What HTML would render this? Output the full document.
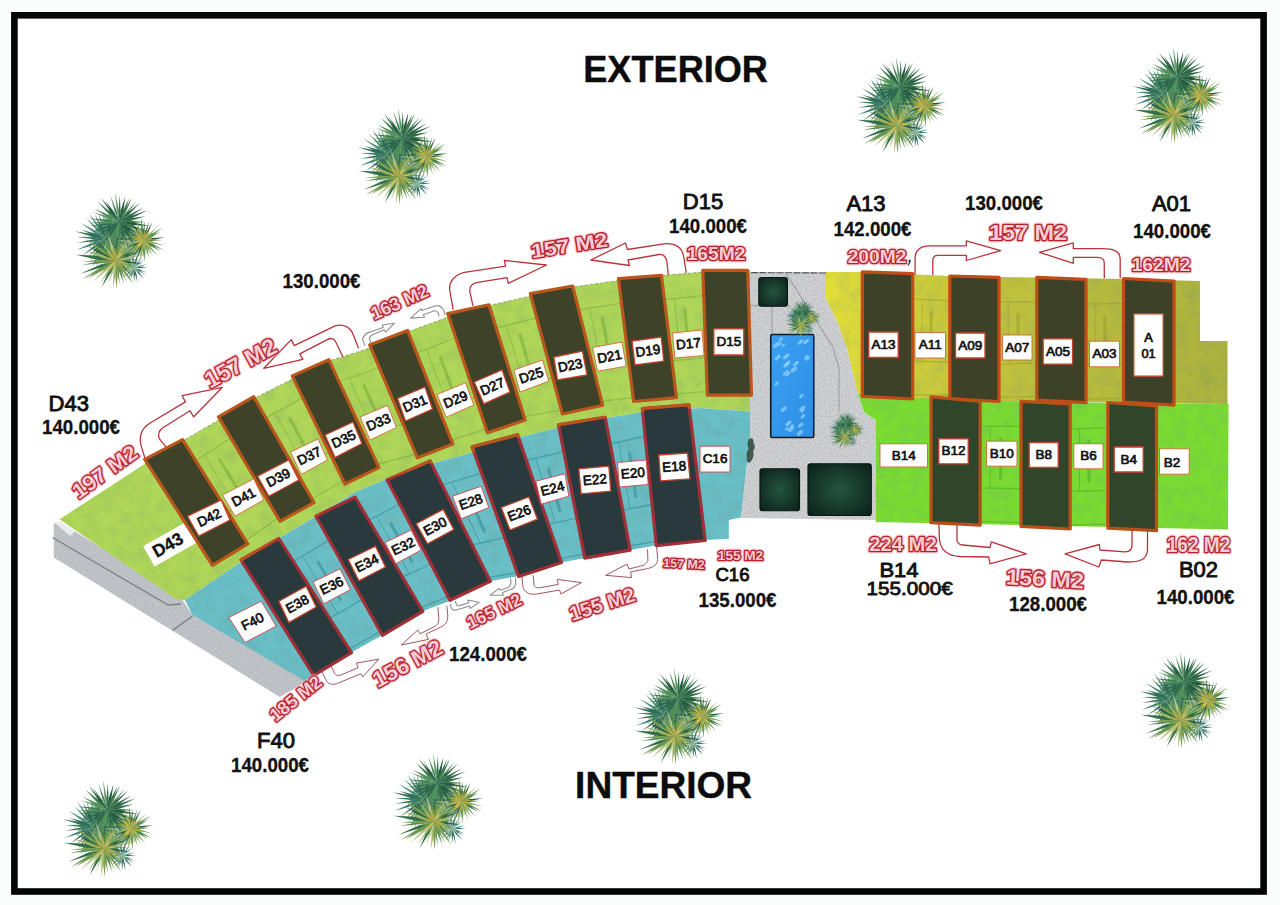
<!DOCTYPE html>
<html lang="es"><head><meta charset="utf-8"><title>Plano</title>
<style>
html,body{margin:0;padding:0;background:#fafdfb;}
body{width:1280px;height:905px;overflow:hidden;font-family:"Liberation Sans",sans-serif;}
svg{display:block;position:absolute;left:0;top:0;font-family:"Liberation Sans",sans-serif;}
.zd{fill:#afd659}.ze{fill:#6bbec6}.za{fill:url(#ga)}.zb{fill:#7bdb30}
.gr{fill:#d0d2d4}.rd{fill:#c1c5ca}
.bd{fill:#3d4228;stroke:#b8561c;stroke-width:3.2;stroke-linejoin:round}
.be{fill:#29393c;stroke:#a02f38;stroke-width:3.2;stroke-linejoin:round}
.ba{fill:#3d4127;stroke:#c24c18;stroke-width:3.2;stroke-linejoin:round}
.bb{fill:#31452a;stroke:#b85018;stroke-width:3.2;stroke-linejoin:round}
.lb{fill:#fff;stroke:#cf6a30;stroke-width:.9}
.lbi{fill:#fff;stroke:#c4402a;stroke-width:1.3}
.lbe{fill:#fff;stroke:#c9474c;stroke-width:.9}
.lbn{fill:#fff;stroke:none}
.lt{fill:#111;text-anchor:middle;stroke:#111;stroke-width:.7;stroke-linejoin:round}
.b43{font-weight:700;stroke-width:.3}
.big{fill:#111;text-anchor:middle;stroke:#111;stroke-width:.9;stroke-linejoin:round}
.pr{fill:#111;text-anchor:middle;font-weight:700;stroke:#111;stroke-width:.3;stroke-linejoin:round}
.ttl{fill:#0c0c0c;text-anchor:middle;font-weight:700;stroke:#0c0c0c;stroke-width:.4;stroke-linejoin:round}
.rt{fill:#f9cdd3;stroke:#b5222e;stroke-width:2.7;font-weight:700;text-anchor:middle;paint-order:stroke fill;stroke-linejoin:round}
.rg{fill:none;stroke:#f5aab2;stroke-width:5;font-weight:700;text-anchor:middle;stroke-linejoin:round;opacity:.55}
.ar{fill:#fff;stroke:#b8343c;stroke-width:1.3;stroke-linejoin:round}
.ar2{fill:#fff;stroke:#9c4c56;stroke-width:.95;stroke-linejoin:round}
.ag{fill:#fff;stroke:#8e8e8e;stroke-width:1.1;stroke-linejoin:round}
</style></head><body>
<svg width="1280" height="905" viewBox="0 0 1280 905">
<defs>
<symbol id="palm" viewBox="-50 -50 100 100" overflow="visible"><g filter="url(#soft)"><ellipse cx="-3" cy="0" rx="22" ry="24" fill="#3f7a52" opacity=".45"/><ellipse cx="20" cy="2" rx="12" ry="13" fill="#6f9a50" opacity=".35"/><path d="M15.0 26.0L20.5 26.4L28.0 25.5L20.4 25.2Z" fill="#2b6a5c" opacity="1.0"/><path d="M15.0 26.0L19.8 28.5L26.9 30.8L20.2 27.5Z" fill="#336c5a" opacity="1.0"/><path d="M15.0 26.0L19.3 29.3L25.8 32.9L19.8 28.4Z" fill="#37806f" opacity="1.0"/><path d="M15.0 26.0L18.3 30.9L24.2 36.5L19.4 30.0Z" fill="#2b6a5c" opacity="1.0"/><path d="M15.0 26.0L15.7 32.2L18.1 40.4L17.0 31.9Z" fill="#2b6a5c" opacity="1.0"/><path d="M15.0 26.0L14.2 31.8L14.8 39.9L15.6 31.8Z" fill="#2b6a5c" opacity="1.0"/><path d="M15.0 26.0L12.8 31.0L10.8 38.3L13.8 31.3Z" fill="#336c5a" opacity="1.0"/><path d="M15.0 26.0L11.5 30.5L8.0 37.6L12.6 31.2Z" fill="#37806f" opacity="1.0"/><path d="M15.0 26.0L10.1 29.6L4.1 35.5L10.7 30.4Z" fill="#2b6a5c" opacity="1.0"/><path d="M15.0 26.0L9.8 27.2L2.9 29.8L10.0 28.0Z" fill="#37806f" opacity="1.0"/><path d="M15.0 26.0L9.0 25.3L0.6 26.0L9.0 26.7Z" fill="#4a907f" opacity="1.0"/><path d="M15.0 26.0L9.6 23.6L1.7 21.4L9.2 24.6Z" fill="#37806f" opacity="1.0"/><path d="M15.0 26.0L11.0 22.1L4.6 17.7L10.2 23.0Z" fill="#336c5a" opacity="1.0"/><path d="M15.0 26.0L12.1 21.0L6.9 14.9L11.2 21.7Z" fill="#336c5a" opacity="1.0"/><path d="M15.0 26.0L14.4 20.6L12.3 13.4L13.4 20.8Z" fill="#265a52" opacity="1.0"/><path d="M15.0 26.0L15.0 20.0L13.9 11.8L14.1 20.1Z" fill="#3f8a80" opacity="1.0"/><path d="M15.0 26.0L17.0 20.2L18.2 11.9L15.6 19.9Z" fill="#265a52" opacity="1.0"/><path d="M15.0 26.0L18.7 21.5L22.7 14.6L17.7 20.9Z" fill="#4a907f" opacity="1.0"/><path d="M15.0 26.0L19.4 22.8L24.6 17.5L18.7 22.1Z" fill="#3f8a80" opacity="1.0"/><path d="M15.0 26.0L20.3 25.1L27.2 22.5L20.0 24.0Z" fill="#3f8a80" opacity="1.0"/><path d="M-12.0 -2.0L0.1 -0.7L16.8 -1.7L0.1 -3.1Z" fill="#2a6444" opacity="1.0"/><path d="M-12.0 -2.0L-1.5 1.9L13.8 4.2L-0.8 -0.7Z" fill="#3f8a80" opacity="1.0"/><path d="M-12.0 -2.0L-2.3 2.2L11.7 6.0L-1.8 0.6Z" fill="#336c5a" opacity="1.0"/><path d="M-12.0 -2.0L-3.0 4.2L10.6 10.5L-2.0 2.4Z" fill="#33704a" opacity="1.0"/><path d="M-12.0 -2.0L-3.9 6.2L9.1 15.2L-2.4 4.3Z" fill="#265a52" opacity="1.0"/><path d="M-12.0 -2.0L-5.7 9.0L5.1 22.7L-3.9 7.7Z" fill="#2a6444" opacity="1.0"/><path d="M-12.0 -2.0L-8.4 9.6L-0.8 24.6L-6.2 8.7Z" fill="#4a907f" opacity="1.0"/><path d="M-12.0 -2.0L-9.5 8.4L-4.0 22.1L-7.7 7.8Z" fill="#4a907f" opacity="1.0"/><path d="M-12.0 -2.0L-11.1 10.6L-7.4 27.5L-9.0 10.2Z" fill="#336c5a" opacity="1.0"/><path d="M-12.0 -2.0L-13.4 9.3L-12.8 25.0L-11.2 9.4Z" fill="#3f8a80" opacity="1.0"/><path d="M-12.0 -2.0L-17.2 9.0L-21.5 25.3L-14.8 9.9Z" fill="#2b6a5c" opacity="1.0"/><path d="M-12.0 -2.0L-19.0 8.7L-25.3 25.0L-16.2 10.0Z" fill="#3f7f50" opacity="1.0"/><path d="M-12.0 -2.0L-19.4 6.6L-27.9 19.7L-17.9 7.7Z" fill="#2a6444" opacity="1.0"/><path d="M-12.0 -2.0L-19.9 4.8L-29.2 15.6L-18.6 6.0Z" fill="#265a52" opacity="1.0"/><path d="M-12.0 -2.0L-22.3 4.0L-35.3 14.1L-21.2 5.5Z" fill="#265a52" opacity="1.0"/><path d="M-12.0 -2.0L-24.5 1.3L-40.6 8.9L-23.5 3.9Z" fill="#37806f" opacity="1.0"/><path d="M-12.0 -2.0L-23.9 -1.4L-40.1 1.9L-23.7 0.6Z" fill="#336c5a" opacity="1.0"/><path d="M-12.0 -2.0L-23.8 -3.9L-40.2 -3.7L-23.9 -1.5Z" fill="#37806f" opacity="1.0"/><path d="M-12.0 -2.0L-24.4 -6.2L-42.1 -9.1L-25.0 -3.7Z" fill="#33704a" opacity="1.0"/><path d="M-12.0 -2.0L-21.5 -6.7L-35.7 -10.5L-22.4 -4.4Z" fill="#336c5a" opacity="1.0"/><path d="M-12.0 -2.0L-21.7 -9.4L-36.6 -17.1L-23.0 -7.3Z" fill="#4a907f" opacity="1.0"/><path d="M-12.0 -2.0L-19.5 -11.0L-31.4 -21.9L-20.8 -9.7Z" fill="#3f7f50" opacity="1.0"/><path d="M-12.0 -2.0L-18.0 -12.8L-28.4 -26.3L-19.8 -11.6Z" fill="#37806f" opacity="1.0"/><path d="M-12.0 -2.0L-15.7 -12.3L-23.0 -25.5L-17.5 -11.4Z" fill="#265a52" opacity="1.0"/><path d="M-12.0 -2.0L-14.1 -12.6L-19.5 -26.6L-16.2 -12.0Z" fill="#3f7f50" opacity="1.0"/><path d="M-12.0 -2.0L-12.0 -12.9L-14.9 -27.5L-14.5 -12.6Z" fill="#4a907f" opacity="1.0"/><path d="M-12.0 -2.0L-9.0 -14.2L-8.1 -31.5L-11.8 -14.6Z" fill="#4a907f" opacity="1.0"/><path d="M-12.0 -2.0L-8.0 -12.9L-5.5 -28.8L-10.5 -13.5Z" fill="#2b6a5c" opacity="1.0"/><path d="M-12.0 -2.0L-5.6 -11.6L1.1 -26.1L-7.4 -12.6Z" fill="#3f8a80" opacity="1.0"/><path d="M-12.0 -2.0L-3.0 -11.3L6.3 -26.5L-5.6 -13.3Z" fill="#3f8a80" opacity="1.0"/><path d="M-12.0 -2.0L-3.9 -8.7L5.4 -19.7L-5.4 -10.2Z" fill="#3f8a80" opacity="1.0"/><path d="M-12.0 -2.0L-1.3 -7.5L11.6 -17.9L-2.9 -9.9Z" fill="#2b6a5c" opacity="1.0"/><path d="M-12.0 -2.0L-0.3 -5.1L14.7 -12.4L-1.3 -7.7Z" fill="#37806f" opacity="1.0"/><path d="M-12.0 -2.0L-1.5 -2.5L12.7 -5.5L-1.7 -4.5Z" fill="#4a907f" opacity="1.0"/><path d="M0.5 -18.0L11.0 -16.8L25.6 -18.1L11.0 -19.2Z" fill="#3f7f50" opacity="1.0"/><path d="M0.5 -18.0L12.7 -15.1L29.9 -14.3L13.0 -17.8Z" fill="#255640" opacity="1.0"/><path d="M0.5 -18.0L11.8 -12.6L28.5 -8.2L12.7 -15.2Z" fill="#33704a" opacity="1.0"/><path d="M0.5 -18.0L8.4 -11.5L20.7 -4.7L9.6 -13.3Z" fill="#255640" opacity="1.0"/><path d="M0.5 -18.0L7.4 -10.1L18.9 -1.3L9.1 -11.9Z" fill="#255640" opacity="1.0"/><path d="M0.5 -18.0L6.5 -8.8L16.9 2.3L8.3 -10.2Z" fill="#33704a" opacity="1.0"/><path d="M0.5 -18.0L6.0 -7.1L16.3 6.1L8.3 -8.6Z" fill="#2a6444" opacity="1.0"/><path d="M0.5 -18.0L3.6 -5.9L10.5 9.8L5.9 -6.7Z" fill="#2d6850" opacity="1.0"/><path d="M0.5 -18.0L2.2 -5.8L6.6 10.6L4.0 -6.2Z" fill="#33704a" opacity="1.0"/><path d="M0.5 -18.0L-0.4 -7.3L1.1 7.4L1.9 -7.3Z" fill="#3f7f50" opacity="1.0"/><path d="M0.5 -18.0L-2.6 -6.2L-4.7 10.5L-0.7 -5.8Z" fill="#5f9a62" opacity="1.0"/><path d="M0.5 -18.0L-4.3 -7.8L-8.2 7.3L-2.0 -7.0Z" fill="#4f8f58" opacity="1.0"/><path d="M0.5 -18.0L-6.7 -7.8L-14.0 7.7L-4.5 -6.6Z" fill="#4f8f58" opacity="1.0"/><path d="M0.5 -18.0L-7.5 -9.8L-16.0 3.5L-5.3 -8.2Z" fill="#2d6850" opacity="1.0"/><path d="M0.5 -18.0L-7.8 -12.1L-17.3 -1.9L-6.2 -10.4Z" fill="#33704a" opacity="1.0"/><path d="M0.5 -18.0L-9.8 -12.5L-22.9 -3.1L-8.8 -10.9Z" fill="#2a6444" opacity="1.0"/><path d="M0.5 -18.0L-10.5 -15.0L-24.8 -8.2L-9.7 -12.8Z" fill="#2d6850" opacity="1.0"/><path d="M0.5 -18.0L-11.8 -17.2L-28.5 -13.9L-11.5 -15.3Z" fill="#33704a" opacity="1.0"/><path d="M0.5 -18.0L-11.6 -18.9L-28.1 -17.2L-11.5 -16.5Z" fill="#4f8f58" opacity="1.0"/><path d="M0.5 -18.0L-11.6 -20.4L-28.7 -21.4L-11.9 -18.5Z" fill="#3f7f50" opacity="1.0"/><path d="M0.5 -18.0L-9.7 -23.1L-24.8 -27.6L-10.5 -20.9Z" fill="#5f9a62" opacity="1.0"/><path d="M0.5 -18.0L-8.9 -24.6L-23.3 -30.9L-10.1 -22.2Z" fill="#4f8f58" opacity="1.0"/><path d="M0.5 -18.0L-7.2 -27.1L-20.1 -37.3L-9.1 -25.1Z" fill="#3f7f50" opacity="1.0"/><path d="M0.5 -18.0L-6.1 -28.5L-17.2 -41.4L-7.8 -27.2Z" fill="#255640" opacity="1.0"/><path d="M0.5 -18.0L-4.2 -27.3L-12.8 -38.8L-5.9 -26.2Z" fill="#2a6444" opacity="1.0"/><path d="M0.5 -18.0L-2.2 -28.9L-8.1 -43.2L-4.0 -28.3Z" fill="#3f7f50" opacity="1.0"/><path d="M0.5 -18.0L-0.2 -30.4L-3.6 -47.1L-2.2 -30.1Z" fill="#5f9a62" opacity="1.0"/><path d="M0.5 -18.0L1.7 -29.0L1.0 -44.2L-0.3 -29.0Z" fill="#33704a" opacity="1.0"/><path d="M0.5 -18.0L4.2 -28.0L6.3 -42.6L1.7 -28.7Z" fill="#255640" opacity="1.0"/><path d="M0.5 -18.0L5.6 -27.2L10.1 -41.0L3.5 -28.1Z" fill="#33704a" opacity="1.0"/><path d="M0.5 -18.0L6.7 -27.4L12.8 -41.6L4.7 -28.4Z" fill="#3f7f50" opacity="1.0"/><path d="M0.5 -18.0L8.2 -25.9L17.1 -38.2L6.8 -27.0Z" fill="#3f7f50" opacity="1.0"/><path d="M0.5 -18.0L9.6 -25.1L20.4 -36.8L8.1 -26.7Z" fill="#2a6444" opacity="1.0"/><path d="M0.5 -18.0L10.8 -22.9L23.8 -31.9L9.7 -24.7Z" fill="#2a6444" opacity="1.0"/><path d="M0.5 -18.0L12.4 -21.8L27.7 -29.4L11.5 -23.8Z" fill="#2a6444" opacity="1.0"/><path d="M0.5 -18.0L11.3 -19.1L25.5 -23.7L10.7 -21.7Z" fill="#33704a" opacity="1.0"/><path d="M-2.7 18.6L7.2 19.3L20.7 18.0L7.1 17.4Z" fill="#588c52" opacity="1.0"/><path d="M-2.7 18.6L8.0 21.3L23.1 22.4L8.3 19.1Z" fill="#2a6444" opacity="1.0"/><path d="M-2.7 18.6L6.2 22.5L19.2 26.3L6.7 21.1Z" fill="#6a9650" opacity="1.0"/><path d="M-2.7 18.6L5.4 24.0L18.0 28.9L6.5 21.9Z" fill="#8fae5c" opacity="1.0"/><path d="M-2.7 18.6L4.3 25.5L15.6 32.8L5.7 23.7Z" fill="#8fae5c" opacity="1.0"/><path d="M-2.7 18.6L3.9 25.9L14.3 34.7L4.9 24.8Z" fill="#33704a" opacity="1.0"/><path d="M-2.7 18.6L3.4 29.0L14.2 41.5L5.4 27.4Z" fill="#7aa052" opacity="1.0"/><path d="M-2.7 18.6L1.1 28.0L8.2 40.1L2.6 27.3Z" fill="#6a9650" opacity="1.0"/><path d="M-2.7 18.6L-0.5 28.4L5.2 41.0L1.8 27.6Z" fill="#588c52" opacity="1.0"/><path d="M-2.7 18.6L-2.1 28.7L1.0 42.3L-0.2 28.4Z" fill="#6a9650" opacity="1.0"/><path d="M-2.7 18.6L-3.9 30.3L-2.0 46.3L-0.9 30.2Z" fill="#7aa052" opacity="1.0"/><path d="M-2.7 18.6L-5.1 29.9L-5.5 45.8L-2.7 30.1Z" fill="#a3b868" opacity="1.0"/><path d="M-2.7 18.6L-6.8 27.9L-10.2 41.6L-4.9 28.6Z" fill="#b5c688" opacity="1.0"/><path d="M-2.7 18.6L-9.8 28.7L-16.4 44.4L-7.2 30.1Z" fill="#33704a" opacity="1.0"/><path d="M-2.7 18.6L-10.0 27.3L-18.0 40.7L-8.3 28.4Z" fill="#a3b868" opacity="1.0"/><path d="M-2.7 18.6L-13.0 26.3L-25.0 39.3L-11.1 28.3Z" fill="#b5c688" opacity="1.0"/><path d="M-2.7 18.6L-15.0 24.6L-29.9 36.2L-13.2 27.3Z" fill="#7aa052" opacity="1.0"/><path d="M-2.7 18.6L-17.0 25.1L-35.0 37.0L-15.6 27.5Z" fill="#6a9650" opacity="1.0"/><path d="M-2.7 18.6L-17.6 22.7L-36.9 31.6L-16.5 25.4Z" fill="#33704a" opacity="1.0"/><path d="M-2.7 18.6L-16.7 19.3L-35.6 23.2L-16.3 21.7Z" fill="#588c52" opacity="1.0"/><path d="M-2.7 18.6L-16.3 18.1L-35.0 20.2L-16.2 20.5Z" fill="#7aa052" opacity="1.0"/><path d="M-2.7 18.6L-18.7 14.4L-41.5 13.5L-19.3 18.5Z" fill="#33704a" opacity="1.0"/><path d="M-2.7 18.6L-14.7 13.3L-32.4 9.6L-15.6 16.3Z" fill="#a3b868" opacity="1.0"/><path d="M-2.7 18.6L-13.8 11.8L-30.3 5.1L-14.8 14.0Z" fill="#2a6444" opacity="1.0"/><path d="M-2.7 18.6L-14.5 8.8L-32.7 -2.1L-16.1 11.0Z" fill="#7aa052" opacity="1.0"/><path d="M-2.7 18.6L-11.6 9.0L-25.7 -2.4L-13.1 10.6Z" fill="#3f7f50" opacity="1.0"/><path d="M-2.7 18.6L-8.7 9.7L-18.7 -1.2L-10.2 10.9Z" fill="#a3b868" opacity="1.0"/><path d="M-2.7 18.6L-7.4 7.4L-16.9 -6.4L-9.9 8.8Z" fill="#6a9650" opacity="1.0"/><path d="M-2.7 18.6L-4.7 7.3L-10.7 -7.4L-7.4 8.1Z" fill="#b5c688" opacity="1.0"/><path d="M-2.7 18.6L-3.0 7.1L-6.2 -8.4L-5.3 7.4Z" fill="#588c52" opacity="1.0"/><path d="M-2.7 18.6L-1.5 7.4L-2.0 -8.1L-3.3 7.4Z" fill="#33704a" opacity="1.0"/><path d="M-2.7 18.6L0.6 7.5L1.9 -8.3L-2.1 7.1Z" fill="#6a9650" opacity="1.0"/><path d="M-2.7 18.6L2.5 8.2L6.9 -7.1L0.2 7.4Z" fill="#7aa052" opacity="1.0"/><path d="M-2.7 18.6L3.8 9.6L10.1 -4.4L1.5 8.3Z" fill="#a3b868" opacity="1.0"/><path d="M-2.7 18.6L3.5 11.1L9.9 -0.5L1.7 10.0Z" fill="#8fae5c" opacity="1.0"/><path d="M-2.7 18.6L5.4 11.5L15.1 0.3L4.2 10.3Z" fill="#7aa052" opacity="1.0"/><path d="M-2.7 18.6L7.2 13.0L19.3 3.1L5.9 11.1Z" fill="#7aa052" opacity="1.0"/><path d="M-2.7 18.6L6.5 15.2L17.8 8.0L5.4 13.1Z" fill="#33704a" opacity="1.0"/><path d="M-2.7 18.6L7.9 15.9L21.6 9.5L7.1 13.6Z" fill="#2a6444" opacity="1.0"/><path d="M-2.7 18.6L7.0 17.7L20.0 14.4L6.7 16.0Z" fill="#a3b868" opacity="1.0"/><path d="M-2.7 18.6L2.8 19.0L10.2 17.6L2.7 17.4Z" fill="#dcc04a" opacity="0.85"/><path d="M-2.7 18.6L2.6 20.9L10.5 22.3L3.1 19.4Z" fill="#d2b43c" opacity="0.85"/><path d="M-2.7 18.6L0.5 23.0L6.1 28.0L1.5 22.1Z" fill="#c2ab3e" opacity="0.85"/><path d="M-2.7 18.6L-1.2 23.9L2.8 30.3L0.4 23.1Z" fill="#93a34a" opacity="0.85"/><path d="M-2.7 18.6L-3.3 23.2L-2.9 29.6L-2.2 23.2Z" fill="#a9a846" opacity="0.85"/><path d="M-2.7 18.6L-5.6 22.4L-8.3 28.3L-4.5 23.0Z" fill="#dcc04a" opacity="0.85"/><path d="M-2.7 18.6L-6.8 22.0L-11.0 27.9L-5.6 23.1Z" fill="#dcc04a" opacity="0.85"/><path d="M-2.7 18.6L-8.6 19.6L-16.0 23.0L-8.0 21.3Z" fill="#a9a846" opacity="0.85"/><path d="M-2.7 18.6L-8.4 17.2L-16.4 16.8L-8.5 18.5Z" fill="#dcc04a" opacity="0.85"/><path d="M-2.7 18.6L-7.5 16.2L-14.7 15.2L-8.0 18.1Z" fill="#a9a846" opacity="0.85"/><path d="M-2.7 18.6L-6.2 13.9L-12.7 9.2L-7.6 15.4Z" fill="#d2b43c" opacity="0.85"/><path d="M-2.7 18.6L-3.7 13.9L-6.8 8.0L-5.1 14.4Z" fill="#a9a846" opacity="0.85"/><path d="M-2.7 18.6L-2.4 12.9L-4.1 5.2L-4.1 13.1Z" fill="#d2b43c" opacity="0.85"/><path d="M-2.7 18.6L0.2 14.6L2.3 8.1L-1.4 13.8Z" fill="#dcc04a" opacity="0.85"/><path d="M-2.7 18.6L1.2 15.7L5.1 10.3L-0.1 14.5Z" fill="#c9c27a" opacity="0.85"/><path d="M-2.7 18.6L2.1 17.2L8.2 13.9L1.6 16.1Z" fill="#a9a846" opacity="0.85"/><path d="M23.5 -0.5L31.1 0.1L41.6 -0.8L31.1 -1.3Z" fill="#3f7a45" opacity="1.0"/><path d="M23.5 -0.5L32.2 2.4L44.5 4.8L32.5 1.0Z" fill="#7da24a" opacity="1.0"/><path d="M23.5 -0.5L31.5 4.3L43.3 9.1L32.2 2.8Z" fill="#3f7a45" opacity="1.0"/><path d="M23.5 -0.5L29.9 4.7L40.0 9.9L30.9 3.0Z" fill="#4f8a4a" opacity="1.0"/><path d="M23.5 -0.5L28.6 6.0L37.0 13.8L29.7 5.0Z" fill="#4f8a4a" opacity="1.0"/><path d="M23.5 -0.5L26.8 6.3L32.9 14.6L28.1 5.4Z" fill="#7da24a" opacity="1.0"/><path d="M23.5 -0.5L25.5 7.2L30.0 17.2L27.0 6.7Z" fill="#7da24a" opacity="1.0"/><path d="M23.5 -0.5L23.2 8.5L24.9 20.9L25.0 8.4Z" fill="#4f8a4a" opacity="1.0"/><path d="M23.5 -0.5L21.2 7.9L20.4 19.9L23.2 8.2Z" fill="#93ad52" opacity="1.0"/><path d="M23.5 -0.5L20.0 7.7L16.8 19.5L21.4 8.1Z" fill="#2c5c38" opacity="1.0"/><path d="M23.5 -0.5L18.2 6.8L13.0 18.0L19.9 7.7Z" fill="#3f7a45" opacity="1.0"/><path d="M23.5 -0.5L16.6 5.8L8.8 15.9L18.0 7.0Z" fill="#7da24a" opacity="1.0"/><path d="M23.5 -0.5L16.5 3.7L8.0 10.9L17.4 4.9Z" fill="#3f7a45" opacity="1.0"/><path d="M23.5 -0.5L16.0 2.1L6.5 7.4L16.7 3.5Z" fill="#2c5c38" opacity="1.0"/><path d="M23.5 -0.5L14.9 1.1L3.5 4.9L15.3 2.5Z" fill="#93ad52" opacity="1.0"/><path d="M23.5 -0.5L15.2 -1.7L3.5 -1.7L15.1 -0.3Z" fill="#3f7a45" opacity="1.0"/><path d="M23.5 -0.5L15.7 -3.5L4.5 -6.0L15.3 -2.2Z" fill="#7da24a" opacity="1.0"/><path d="M23.5 -0.5L16.6 -4.1L6.4 -7.4L16.0 -2.6Z" fill="#3f7a45" opacity="1.0"/><path d="M23.5 -0.5L17.4 -5.6L7.9 -11.0L16.5 -4.2Z" fill="#4f8a4a" opacity="1.0"/><path d="M23.5 -0.5L18.8 -7.3L10.9 -15.5L17.6 -6.3Z" fill="#93ad52" opacity="1.0"/><path d="M23.5 -0.5L20.0 -7.7L13.4 -16.4L18.5 -6.7Z" fill="#2c5c38" opacity="1.0"/><path d="M23.5 -0.5L21.0 -9.6L15.9 -21.5L19.6 -9.1Z" fill="#93ad52" opacity="1.0"/><path d="M23.5 -0.5L23.7 -9.6L21.3 -21.9L21.5 -9.4Z" fill="#4f8a4a" opacity="1.0"/><path d="M23.5 -0.5L24.8 -8.3L24.8 -19.2L23.3 -8.4Z" fill="#2c5c38" opacity="1.0"/><path d="M23.5 -0.5L26.8 -7.9L29.2 -18.7L25.0 -8.4Z" fill="#4f8a4a" opacity="1.0"/><path d="M23.5 -0.5L28.1 -7.4L32.4 -18.0L26.4 -8.3Z" fill="#2c5c38" opacity="1.0"/><path d="M23.5 -0.5L30.0 -5.9L37.9 -14.4L29.1 -6.8Z" fill="#93ad52" opacity="1.0"/><path d="M23.5 -0.5L31.8 -4.9L42.3 -12.7L30.9 -6.3Z" fill="#4f8a4a" opacity="1.0"/><path d="M23.5 -0.5L30.8 -3.0L39.9 -8.6L30.0 -4.8Z" fill="#4f8a4a" opacity="1.0"/><path d="M23.5 -0.5L32.4 -0.8L44.4 -3.5L32.1 -2.7Z" fill="#2c5c38" opacity="1.0"/><path d="M23.5 -0.5L28.7 -0.3L35.8 -1.8L28.6 -1.7Z" fill="#c2ab3e" opacity="0.9"/><path d="M23.5 -0.5L28.4 2.0L35.8 3.1L28.9 0.0Z" fill="#a9a846" opacity="0.9"/><path d="M23.5 -0.5L26.3 3.8L31.7 8.2L27.6 2.5Z" fill="#dcc04a" opacity="0.9"/><path d="M23.5 -0.5L25.0 3.7L28.3 8.8L26.1 3.1Z" fill="#93a34a" opacity="0.9"/><path d="M23.5 -0.5L23.1 4.0L24.2 10.2L24.5 3.9Z" fill="#93a34a" opacity="0.9"/><path d="M23.5 -0.5L22.2 4.3L22.9 11.2L24.3 4.5Z" fill="#a9a846" opacity="0.9"/><path d="M23.5 -0.5L19.6 2.9L16.4 9.1L21.4 4.2Z" fill="#dcc04a" opacity="0.9"/><path d="M23.5 -0.5L19.3 2.1L14.5 7.0L20.1 3.2Z" fill="#dcc04a" opacity="0.9"/><path d="M23.5 -0.5L18.9 0.3L13.0 2.7L19.3 1.5Z" fill="#dcc04a" opacity="0.9"/><path d="M23.5 -0.5L18.6 -1.7L11.6 -1.6L18.4 -0.3Z" fill="#c2ab3e" opacity="0.9"/><path d="M23.5 -0.5L18.8 -3.3L11.7 -5.4L18.2 -1.8Z" fill="#d2b43c" opacity="0.9"/><path d="M23.5 -0.5L20.3 -4.6L14.5 -8.8L19.2 -3.4Z" fill="#dcc04a" opacity="0.9"/><path d="M23.5 -0.5L21.4 -5.4L16.5 -10.8L19.7 -4.2Z" fill="#93a34a" opacity="0.9"/><path d="M23.5 -0.5L22.9 -5.4L20.3 -11.6L21.4 -5.0Z" fill="#c2ab3e" opacity="0.9"/><path d="M23.5 -0.5L24.9 -4.9L24.7 -11.2L23.1 -5.1Z" fill="#a9a846" opacity="0.9"/><path d="M23.5 -0.5L26.4 -4.7L28.4 -11.3L24.7 -5.4Z" fill="#c2ab3e" opacity="0.9"/><path d="M23.5 -0.5L28.1 -3.4L33.2 -8.7L27.1 -4.5Z" fill="#93a34a" opacity="0.9"/><path d="M23.5 -0.5L28.1 -1.8L33.7 -5.3L27.5 -3.2Z" fill="#93a34a" opacity="0.9"/></g></symbol>
<filter id="noise" x="0" y="0" width="100%" height="100%"><feTurbulence type="fractalNoise" baseFrequency="0.55" numOctaves="2" seed="3" result="n"/><feColorMatrix in="n" type="matrix" values="0 0 0 0 0.42  0 0 0 0 0.45  0 0 0 0 0.47  0 0 0 -1.6 1.0" result="a"/><feComposite in="a" in2="SourceGraphic" operator="in" result="sp"/><feMerge><feMergeNode in="SourceGraphic"/><feMergeNode in="sp"/></feMerge></filter>
<filter id="soft" x="-20%" y="-20%" width="140%" height="140%"><feGaussianBlur stdDeviation="0.35"/></filter>
<filter id="mot" x="0" y="0" width="100%" height="100%"><feTurbulence type="fractalNoise" baseFrequency="0.08" numOctaves="3" seed="11" result="n"/><feColorMatrix in="n" type="matrix" values="0 0 0 0 0.1  0 0 0 0 0.25  0 0 0 0 0.15  0 0 0 -0.45 0.27" result="a"/><feComposite in="a" in2="SourceGraphic" operator="in" result="sp"/><feMerge><feMergeNode in="SourceGraphic"/><feMergeNode in="sp"/></feMerge></filter>
<filter id="glow" x="-10%" y="-40%" width="120%" height="180%"><feMorphology in="SourceAlpha" operator="dilate" radius="0.9" result="d"/><feGaussianBlur in="d" stdDeviation="0.9" result="b"/><feFlood flood-color="#f3a0aa" flood-opacity=".7"/><feComposite in2="b" operator="in" result="g"/><feMerge><feMergeNode in="g"/><feMergeNode in="SourceGraphic"/></feMerge></filter>
<linearGradient id="pool" x1="0" y1="0" x2="1" y2="1"><stop offset="0" stop-color="#3aa0f0"/><stop offset="1" stop-color="#2f8fe6"/></linearGradient>
<linearGradient id="ga" x1="0" y1="0" x2="1" y2="0"><stop offset="0" stop-color="#e2de3a"/><stop offset=".1" stop-color="#d8d63a"/><stop offset=".35" stop-color="#c3c43c"/><stop offset="1" stop-color="#abb23c"/></linearGradient>
<radialGradient id="dk" cx=".5" cy=".5" r=".7"><stop offset="0" stop-color="#24553f"/><stop offset="1" stop-color="#0a2019"/></radialGradient>
<clipPath id="cd"><polygon points="59.5,519.3 145.0,463.8 182.5,441.0 218.8,420.0 253.8,398.5 292.5,379.0 328.8,361.0 370.0,348.0 407.5,332.0 448.0,317.0 488.8,305.5 530.5,296.0 572.5,287.0 618.8,280.5 661.0,275.5 703.8,272.0 750.0,271.0 750.0,411.5 722.0,409.5 700.0,408.0 642.5,412.0 600.0,419.0 558.8,427.5 517.0,438.0 472.5,452.5 430.0,464.0 387.5,478.8 355.0,492.0 315.0,517.0 280.0,537.5 240.0,562.5 185.0,600.0 176.0,599.0"/></clipPath>
<clipPath id="ce"><polygon points="185.0,600.0 240.0,562.5 280.0,537.5 315.0,517.0 355.0,492.0 387.5,478.8 430.0,464.0 472.5,452.5 517.0,438.0 558.8,427.5 600.0,419.0 642.5,412.0 700.0,408.0 722.0,409.5 750.0,411.5 750.0,437.5 741.0,517.5 728.8,520.0 728.8,538.8 705.0,540.0 658.8,545.0 630.0,550.0 585.0,558.0 561.0,562.5 518.8,576.0 491.0,581.0 448.8,601.2 422.5,611.2 382.5,635.0 351.2,652.5 313.8,675.0 305.0,681.0 192.5,615.0"/></clipPath>
<clipPath id="ca"><polygon points="825.0,272.0 862.0,272.0 950.0,276.0 1037.0,277.5 1123.0,279.0 1200.0,281.0 1200.0,341.0 1227.5,341.0 1227.5,404.0 1085.0,402.0 998.0,401.0 912.0,399.0 860.0,398.0 857.5,392.0 847.5,350.0 837.5,322.0 825.0,297.0"/></clipPath>
<clipPath id="cb"><polygon points="858.0,394.0 912.0,398.0 998.0,401.0 1085.0,402.5 1228.5,404.0 1228.0,529.5 876.0,522.0 876.0,420.0 864.0,412.0"/></clipPath>
</defs>
<rect x="0" y="0" width="1280" height="905" fill="#fafdfb"/>
<rect x="14.4" y="15.3" width="1249.2" height="876.2" fill="#fff" stroke="#040605" stroke-width="6.6"/>
<path class="ar" d="M145.4 459.6L140.8 444.6C138.9 435.2 142.6 427.7 150.1 423L185.4 401.9L182.1 395.7L222.4 387.3L193.7 416.8L190 410.8L162.9 427.7C158.6 430.5 157.7 434.2 159.5 438.9L168.5 450.2"/>
<path class="ar" d="M358.6 348.2L353.1 334.5C350.5 327.6 343.7 323.3 335.1 325.9L294.3 345.6L291.3 339.6L263.8 368.3L302.9 359.4L299.8 353.9L327.7 339.3C331.6 337.5 334.6 338.8 335.9 342.2L342.8 356.8"/>
<path class="ag" d="M364.8 345.6L362.6 338.8C364.3 334.5 366 333 370.3 331.9L383.2 327.6L382.3 325L394.4 323.3L385.8 332.2L384.4 329.8L372.9 334.5C369.5 336.2 369.5 338.8 369.5 338.8L371.2 343.9"/>
<path class="ag" d="M445.1 315L443.4 309.5C439.9 305.2 438 305.3 434.8 306.1L421.9 310.4L421 308.7L410.7 318.1L424.5 317.3L423.3 314.7L433.9 310.9C437.3 310.4 438.2 313 438.2 313L439.1 316.4"/>
<path class="ar" d="M453.2 309.7L449.8 290.5C448.6 281.9 454.1 275 464.4 272.4L505.6 266.1L504.3 260.4L546.5 265L508.2 283.3L507 277.6L476.4 282.7C471.3 283.9 469.2 287 469.9 292.2L473 305.9"/>
<path class="ar" d="M686.3 273L683.8 257.5C682.5 247.5 675 243 663.8 243.8L627.5 249.5L625.5 243L590.8 260L629.5 265.5L628 260L658.8 254.5C664.5 253.8 666.3 257.5 667 262.5L668.3 275.5"/>
<path class="ar" d="M915.1 275.5L915.1 258C915.1 250.2 920.8 245.9 929.4 245.9L966.3 245.9L966.3 240.8L1000.7 250.6L966.3 260.5L966.3 255.4L938 255.4C934.2 255.4 932.8 257.1 932.8 260.5L932.8 275.5"/>
<path class="ar" d="M1120.2 278.2L1120.2 259.2C1120.2 251 1113.6 248.7 1102.2 248.7L1073.3 248.7L1073.3 242.8L1039.6 252.3L1073.3 263.4L1073.3 257.3L1097.2 257.3C1102.8 257.3 1104.3 259.2 1104.3 264.1L1104.3 278.2"/>
<path class="ar" d="M938.8 524L939.5 540C941 552 950 556 960 556.5L988.8 557L990 563.8L1026.3 553.8L991.3 541.8L990 547.5L962.5 545C957.5 544.5 957 540 957 540L957 525"/>
<path class="ar" d="M1147.5 530.5L1147.5 550C1147 560 1138.8 562 1127.5 562L1101.3 560L1098.8 567L1065 553.8L1099.3 544.5L1100 550L1125 551.8C1130.5 551.8 1132 549.3 1132 545L1132 530.5"/>
<path class="ar2" d="M656.6 545.9L657.7 559.5C657.2 566.2 650.9 568.1 645.2 569L630.5 571.9L631.6 577.6L605.6 575.3L627.1 564L628.9 569L641.8 565.8C646.4 564.4 647.9 560.6 647.9 560.6L647.5 549.3"/>
<path class="ar2" d="M521.8 576.4L522.9 586.6C524 592.3 529.7 595.2 536.5 594.1L559.6 590L560.9 594.1L581.3 582.6L557.3 579.4L558.2 584.4L539.9 587.8C535.3 588.2 534.2 585.5 534.2 585.5L533.1 575.3"/>
<path class="ag" d="M515.6 577.5L515.6 584.1C515.3 587.8 512.8 589.1 508.5 590.3L502.5 592.5L503.4 595.3L490.3 595.3L498.8 588.4L500.3 590.3L507.2 587.8C510 586.5 510.9 584.6 510.9 582.2L510.4 578.4"/>
<path class="ag" d="M450 603.8L451.5 608.4C452.8 610.9 456.6 610.3 460.3 608.8L469.7 606L470.6 608.4L479.1 602.3L467.8 600L468.8 602.8L459.4 605.6C457.1 606 456.6 604.7 456.6 604.7L455.3 600.9"/>
<path class="ar2" d="M446.8 605.6L447.8 615.9C447.8 621.6 445.3 625.3 440.6 627.2L426 634.1L428.4 639.4L401.3 645L417.8 630L420 633.8L434.1 626.8C437.8 624.9 439.1 622.5 438.8 617.8L437.8 607.1"/>
<path class="ar2" d="M320.6 669.4L326.3 680.6C328.1 684 332.8 685.3 337.5 683.4L360.9 673.7L362.8 676.9L378.8 659.1L356.3 663.2L358.1 667.7L340.9 675C337.5 676.3 335.6 675 334.3 672.8L330.9 665.6"/>
<polygon class="rd" points="53.8,523.8 58.8,521.5 170.0,590.0 182.5,600.0 192.5,615.0 307.0,681.0 280.0,697.0 53.8,557.5" filter="url(#noise)"/>
<polyline points="52.5,537.5 168.2,605 181,604" fill="none" stroke="#6e7478" stroke-width="1.3" opacity=".85"/>
<polyline points="192.5,616 172.6,630.4" fill="none" stroke="#6e7478" stroke-width="1.3" opacity=".85"/>
<polygon points="55,523 60,520.5 76,530 70,536" fill="#f4f5f5" opacity=".8"/>
<polygon class="zd" points="59.5,519.3 145.0,463.8 182.5,441.0 218.8,420.0 253.8,398.5 292.5,379.0 328.8,361.0 370.0,348.0 407.5,332.0 448.0,317.0 488.8,305.5 530.5,296.0 572.5,287.0 618.8,280.5 661.0,275.5 703.8,272.0 750.0,271.0 750.0,411.5 722.0,409.5 700.0,408.0 642.5,412.0 600.0,419.0 558.8,427.5 517.0,438.0 472.5,452.5 430.0,464.0 387.5,478.8 355.0,492.0 315.0,517.0 280.0,537.5 240.0,562.5 185.0,600.0 176.0,599.0" filter="url(#mot)"/>
<polygon class="ze" points="185.0,600.0 240.0,562.5 280.0,537.5 315.0,517.0 355.0,492.0 387.5,478.8 430.0,464.0 472.5,452.5 517.0,438.0 558.8,427.5 600.0,419.0 642.5,412.0 700.0,408.0 722.0,409.5 750.0,411.5 750.0,437.5 741.0,517.5 728.8,520.0 728.8,538.8 705.0,540.0 658.8,545.0 630.0,550.0 585.0,558.0 561.0,562.5 518.8,576.0 491.0,581.0 448.8,601.2 422.5,611.2 382.5,635.0 351.2,652.5 313.8,675.0 305.0,681.0 192.5,615.0" filter="url(#mot)"/>
<polygon class="gr" points="750.0,272.0 825.0,272.0 825.0,297.0 837.5,322.0 847.5,350.0 857.5,392.0 864.0,412.0 876.0,420.0 876.0,520.0 741.0,518.0 750.0,437.0" filter="url(#noise)"/>
<polygon class="za" points="825.0,272.0 862.0,272.0 950.0,276.0 1037.0,277.5 1123.0,279.0 1200.0,281.0 1200.0,341.0 1227.5,341.0 1227.5,404.0 1085.0,402.0 998.0,401.0 912.0,399.0 860.0,398.0 857.5,392.0 847.5,350.0 837.5,322.0 825.0,297.0" filter="url(#mot)"/>
<polygon class="zb" points="858.0,394.0 912.0,398.0 998.0,401.0 1085.0,402.5 1228.5,404.0 1228.0,529.5 876.0,522.0 876.0,420.0 864.0,412.0" filter="url(#mot)"/>
<polyline points="145.0,463.8 182.5,441.0 218.8,420.0 253.8,398.5 292.5,379.0 328.8,361.0 370.0,348.0 407.5,332.0 448.0,317.0 488.8,305.5 530.5,296.0 572.5,287.0 618.8,280.5 661.0,275.5 703.8,272.0 750.0,271.0" fill="none" stroke="#44523a" stroke-width=".8" stroke-dasharray="3 2.2" opacity=".55"/>
<polyline points="751,272.6 826,273" fill="none" stroke="#262b2b" stroke-width="1.1" stroke-dasharray="7 1.5" opacity=".75"/>
<g fill="none" stroke="#7d8286" stroke-width="1.1" opacity=".6"><polyline points="786.4,274 832.8,346.7 839,368.3 839,412"/><polyline points="750,305.6 791,306"/><polyline points="772,306 772,334"/></g>
<rect x="758.75" y="277.5" width="28.75" height="28.75" rx="2" fill="url(#dk)" stroke="#0a1612" stroke-width="1"/>
<rect x="760" y="468.75" width="39.5" height="42" rx="2.5" fill="url(#dk)" stroke="#0a1612" stroke-width="1.2"/>
<rect x="808" y="463.75" width="63.25" height="51.75" rx="2.5" fill="url(#dk)" stroke="#0a1612" stroke-width="1.2"/>
<rect x="770.75" y="334.5" width="43" height="103" rx="1.5" fill="url(#pool)" stroke="#101a22" stroke-width="1.6"/>
<ellipse cx="779.8" cy="343.9" rx="2.3" ry="1.2" transform="rotate(-42 779.8 343.9)" fill="#86ccff" opacity=".8"/>
<ellipse cx="788.4" cy="423.4" rx="3.8" ry="1.9" transform="rotate(-42 788.4 423.4)" fill="#86ccff" opacity=".8"/>
<ellipse cx="799.9" cy="432.8" rx="3.9" ry="1.9" transform="rotate(-42 799.9 432.8)" fill="#86ccff" opacity=".8"/>
<ellipse cx="786.2" cy="356.4" rx="3.9" ry="1.9" transform="rotate(-42 786.2 356.4)" fill="#86ccff" opacity=".8"/>
<ellipse cx="800.4" cy="342.0" rx="3.4" ry="1.7" transform="rotate(-42 800.4 342.0)" fill="#86ccff" opacity=".8"/>
<ellipse cx="787.9" cy="374.1" rx="2.8" ry="1.4" transform="rotate(-42 787.9 374.1)" fill="#86ccff" opacity=".8"/>
<ellipse cx="780.8" cy="339.3" rx="2.7" ry="1.4" transform="rotate(-42 780.8 339.3)" fill="#86ccff" opacity=".8"/>
<ellipse cx="786.9" cy="428.8" rx="2.4" ry="1.2" transform="rotate(-42 786.9 428.8)" fill="#86ccff" opacity=".8"/>
<ellipse cx="807.8" cy="358.5" rx="2.8" ry="1.4" transform="rotate(-42 807.8 358.5)" fill="#86ccff" opacity=".8"/>
<ellipse cx="802.9" cy="416.3" rx="3.0" ry="1.5" transform="rotate(-42 802.9 416.3)" fill="#86ccff" opacity=".8"/>
<ellipse cx="776.7" cy="383.5" rx="2.9" ry="1.4" transform="rotate(-42 776.7 383.5)" fill="#86ccff" opacity=".8"/>
<ellipse cx="806.3" cy="357.1" rx="2.9" ry="1.4" transform="rotate(-42 806.3 357.1)" fill="#86ccff" opacity=".8"/>
<ellipse cx="805.5" cy="341.8" rx="2.9" ry="1.5" transform="rotate(-42 805.5 341.8)" fill="#86ccff" opacity=".8"/>
<ellipse cx="802.6" cy="411.1" rx="2.3" ry="1.1" transform="rotate(-42 802.6 411.1)" fill="#86ccff" opacity=".8"/>
<ellipse cx="776.2" cy="344.9" rx="3.9" ry="1.9" transform="rotate(-42 776.2 344.9)" fill="#86ccff" opacity=".8"/>
<ellipse cx="783.7" cy="409.2" rx="3.8" ry="1.9" transform="rotate(-42 783.7 409.2)" fill="#86ccff" opacity=".8"/>
<ellipse cx="786.5" cy="364.6" rx="3.9" ry="2.0" transform="rotate(-42 786.5 364.6)" fill="#86ccff" opacity=".8"/>
<ellipse cx="796.0" cy="363.6" rx="3.5" ry="1.7" transform="rotate(-42 796.0 363.6)" fill="#86ccff" opacity=".8"/>
<ellipse cx="785.8" cy="364.9" rx="2.2" ry="1.1" transform="rotate(-42 785.8 364.9)" fill="#86ccff" opacity=".8"/>
<ellipse cx="800.7" cy="425.1" rx="3.3" ry="1.7" transform="rotate(-42 800.7 425.1)" fill="#86ccff" opacity=".8"/>
<ellipse cx="807.1" cy="341.3" rx="2.6" ry="1.3" transform="rotate(-42 807.1 341.3)" fill="#86ccff" opacity=".8"/>
<ellipse cx="791.2" cy="428.9" rx="3.9" ry="2.0" transform="rotate(-42 791.2 428.9)" fill="#86ccff" opacity=".8"/>
<ellipse cx="788.1" cy="362.6" rx="3.0" ry="1.5" transform="rotate(-42 788.1 362.6)" fill="#86ccff" opacity=".8"/>
<ellipse cx="791.8" cy="426.2" rx="2.5" ry="1.3" transform="rotate(-42 791.8 426.2)" fill="#86ccff" opacity=".8"/>
<ellipse cx="802.3" cy="408.4" rx="3.7" ry="1.8" transform="rotate(-42 802.3 408.4)" fill="#86ccff" opacity=".8"/>
<ellipse cx="801.3" cy="396.1" rx="2.8" ry="1.4" transform="rotate(-42 801.3 396.1)" fill="#86ccff" opacity=".8"/>
<ellipse cx="785.9" cy="373.0" rx="3.6" ry="1.8" transform="rotate(-42 785.9 373.0)" fill="#86ccff" opacity=".8"/>
<ellipse cx="777.7" cy="357.5" rx="3.6" ry="1.8" transform="rotate(-42 777.7 357.5)" fill="#86ccff" opacity=".8"/>
<ellipse cx="783.4" cy="345.1" rx="2.3" ry="1.1" transform="rotate(-42 783.4 345.1)" fill="#86ccff" opacity=".8"/>
<ellipse cx="793.8" cy="369.6" rx="4.0" ry="2.0" transform="rotate(-42 793.8 369.6)" fill="#86ccff" opacity=".8"/>
<path d="M749 439c3-2 5 0 4.5 4c2 3 1.5 6-.5 8c1.500 4 0 8-2.500 11c-2.500 2-4.500-1-3.500-4c-1-4 0-7 1.500-9c-1.500-4-1-8 .5-10z" fill="#2c4538" opacity=".85"/>
<use href="#palm" x="781.5" y="297.0" width="42.0" height="42.0"/>
<use href="#palm" x="825.0" y="409.0" width="42.0" height="42.0"/>
<polygon class="lbn" points="143.1,546.3 186.0,522.0 197.5,542.3 154.6,566.6" />
<g clip-path="url(#cd)" stroke="#5f9a2a" fill="none" opacity="0.38" stroke-linecap="round">
<line x1="195.5" y1="460.8" x2="231.0" y2="437.8" stroke-width="1.3"/>
<line x1="228.0" y1="512.6" x2="261.6" y2="489.8" stroke-width="1.3"/>
<line x1="245.6" y1="540.6" x2="278.2" y2="517.9" stroke-width="1.3"/>
<line x1="219.6" y1="459.7" x2="239.8" y2="492.9" stroke-width="3"/>
<line x1="204.4" y1="455.0" x2="236.4" y2="506.9" stroke-width="1"/>
<line x1="265.8" y1="418.1" x2="303.0" y2="397.6" stroke-width="1.3"/>
<line x1="295.8" y1="470.9" x2="329.2" y2="451.4" stroke-width="1.3"/>
<line x1="311.9" y1="499.3" x2="343.4" y2="480.5" stroke-width="1.3"/>
<line x1="290.0" y1="418.5" x2="308.0" y2="452.6" stroke-width="3"/>
<line x1="275.1" y1="413.0" x2="304.1" y2="466.0" stroke-width="1"/>
<line x1="338.8" y1="381.5" x2="379.5" y2="367.5" stroke-width="1.3"/>
<line x1="363.8" y1="435.2" x2="403.2" y2="423.8" stroke-width="1.3"/>
<line x1="377.2" y1="464.3" x2="416.1" y2="454.1" stroke-width="1.3"/>
<line x1="364.0" y1="385.5" x2="379.6" y2="420.7" stroke-width="3"/>
<line x1="348.9" y1="378.0" x2="373.6" y2="432.4" stroke-width="1"/>
<line x1="416.5" y1="353.4" x2="455.9" y2="337.5" stroke-width="1.3"/>
<line x1="439.0" y1="409.9" x2="475.6" y2="396.9" stroke-width="1.3"/>
<line x1="451.1" y1="440.4" x2="486.3" y2="428.9" stroke-width="1.3"/>
<line x1="440.4" y1="357.0" x2="453.9" y2="394.1" stroke-width="3"/>
<line x1="426.4" y1="349.4" x2="448.2" y2="406.6" stroke-width="1"/>
<line x1="496.0" y1="328.0" x2="536.9" y2="317.8" stroke-width="1.3"/>
<line x1="514.1" y1="385.5" x2="552.9" y2="377.8" stroke-width="1.3"/>
<line x1="523.9" y1="416.6" x2="561.5" y2="410.1" stroke-width="1.3"/>
<line x1="519.9" y1="334.6" x2="530.8" y2="372.2" stroke-width="3"/>
<line x1="506.2" y1="325.4" x2="523.8" y2="383.6" stroke-width="1"/>
<line x1="578.5" y1="310.0" x2="621.8" y2="303.2" stroke-width="1.3"/>
<line x1="593.5" y1="369.4" x2="629.2" y2="364.5" stroke-width="1.3"/>
<line x1="601.6" y1="401.4" x2="633.3" y2="397.6" stroke-width="1.3"/>
<line x1="602.4" y1="318.7" x2="609.6" y2="357.3" stroke-width="3"/>
<line x1="589.3" y1="308.3" x2="602.4" y2="368.2" stroke-width="1"/>
<line x1="664.2" y1="299.9" x2="703.9" y2="295.4" stroke-width="1.3"/>
<line x1="671.8" y1="360.9" x2="706.1" y2="357.6" stroke-width="1.3"/>
<line x1="675.8" y1="393.8" x2="707.4" y2="391.3" stroke-width="1.3"/>
<line x1="685.0" y1="310.0" x2="688.2" y2="349.4" stroke-width="3"/>
<line x1="674.2" y1="298.8" x2="680.4" y2="360.1" stroke-width="1"/>
</g>
<g clip-path="url(#ce)" stroke="#2f8a95" fill="none" opacity="0.55" stroke-linecap="round">
<line x1="293.2" y1="561.5" x2="329.5" y2="540.0" stroke-width="1.3"/>
<line x1="329.5" y1="618.4" x2="362.6" y2="599.4" stroke-width="1.3"/>
<line x1="349.1" y1="649.1" x2="380.5" y2="631.4" stroke-width="1.3"/>
<line x1="318.3" y1="562.4" x2="340.5" y2="599.6" stroke-width="3"/>
<line x1="302.3" y1="556.1" x2="337.8" y2="613.6" stroke-width="1"/>
<line x1="368.5" y1="520.2" x2="400.0" y2="504.0" stroke-width="1.3"/>
<line x1="402.2" y1="577.1" x2="431.2" y2="564.0" stroke-width="1.3"/>
<line x1="420.5" y1="607.8" x2="448.1" y2="596.4" stroke-width="1.3"/>
<line x1="390.8" y1="523.8" x2="411.6" y2="561.2" stroke-width="3"/>
<line x1="376.4" y1="516.2" x2="409.5" y2="573.8" stroke-width="1"/>
<line x1="442.0" y1="485.2" x2="481.8" y2="472.9" stroke-width="1.3"/>
<line x1="472.0" y1="545.2" x2="504.9" y2="537.5" stroke-width="1.3"/>
<line x1="488.2" y1="577.6" x2="517.4" y2="572.4" stroke-width="1.3"/>
<line x1="467.2" y1="491.5" x2="484.2" y2="531.4" stroke-width="3"/>
<line x1="451.9" y1="482.1" x2="480.2" y2="543.3" stroke-width="1"/>
<line x1="526.2" y1="460.5" x2="564.0" y2="451.6" stroke-width="1.3"/>
<line x1="548.1" y1="524.2" x2="577.1" y2="518.1" stroke-width="1.3"/>
<line x1="559.9" y1="558.7" x2="584.2" y2="554.0" stroke-width="1.3"/>
<line x1="548.6" y1="469.1" x2="559.8" y2="510.8" stroke-width="3"/>
<line x1="535.7" y1="458.3" x2="555.4" y2="522.7" stroke-width="1"/>
<line x1="610.0" y1="444.0" x2="645.3" y2="436.1" stroke-width="1.3"/>
<line x1="622.5" y1="510.2" x2="652.3" y2="504.5" stroke-width="1.3"/>
<line x1="629.2" y1="546.0" x2="656.1" y2="541.4" stroke-width="1.3"/>
<line x1="629.6" y1="453.5" x2="635.8" y2="496.6" stroke-width="3"/>
<line x1="618.8" y1="442.0" x2="630.0" y2="508.8" stroke-width="1"/>
</g>
<g clip-path="url(#ca)" stroke="#8f9422" fill="none" opacity="0.42" stroke-linecap="round">
<line x1="912.5" y1="298.8" x2="950.0" y2="300.8" stroke-width="1.3"/>
<line x1="912.5" y1="361.2" x2="950.0" y2="362.0" stroke-width="1.3"/>
<line x1="912.5" y1="395.0" x2="950.0" y2="395.1" stroke-width="1.3"/>
<line x1="931.2" y1="312.1" x2="931.2" y2="351.7" stroke-width="3"/>
<line x1="921.9" y1="299.2" x2="921.9" y2="361.4" stroke-width="1"/>
<line x1="998.8" y1="302.2" x2="1037.0" y2="302.0" stroke-width="1.3"/>
<line x1="998.8" y1="364.1" x2="1037.0" y2="363.2" stroke-width="1.3"/>
<line x1="998.8" y1="397.5" x2="1037.0" y2="396.3" stroke-width="1.3"/>
<line x1="1017.9" y1="314.4" x2="1017.9" y2="353.8" stroke-width="3"/>
<line x1="1008.3" y1="302.2" x2="1008.3" y2="363.9" stroke-width="1"/>
<line x1="1085.8" y1="304.1" x2="1123.8" y2="303.4" stroke-width="1.3"/>
<line x1="1085.8" y1="365.6" x2="1123.8" y2="365.0" stroke-width="1.3"/>
<line x1="1085.8" y1="398.8" x2="1123.8" y2="398.3" stroke-width="1.3"/>
<line x1="1104.8" y1="316.1" x2="1104.8" y2="355.5" stroke-width="3"/>
<line x1="1095.2" y1="303.9" x2="1095.2" y2="365.5" stroke-width="1"/>
</g>
<g clip-path="url(#cb)" stroke="#3fa51c" fill="none" opacity="0.45" stroke-linecap="round">
<line x1="980.0" y1="426.2" x2="1021.2" y2="426.4" stroke-width="1.3"/>
<line x1="980.0" y1="487.9" x2="1021.2" y2="488.8" stroke-width="1.3"/>
<line x1="980.0" y1="521.3" x2="1021.2" y2="522.5" stroke-width="1.3"/>
<line x1="1000.6" y1="438.7" x2="1000.6" y2="478.5" stroke-width="3"/>
<line x1="990.3" y1="426.3" x2="990.3" y2="488.2" stroke-width="1"/>
<line x1="1070.0" y1="428.9" x2="1108.0" y2="427.8" stroke-width="1.3"/>
<line x1="1070.0" y1="491.3" x2="1108.0" y2="490.4" stroke-width="1.3"/>
<line x1="1070.0" y1="525.0" x2="1108.0" y2="524.2" stroke-width="1.3"/>
<line x1="1089.0" y1="440.9" x2="1089.0" y2="480.9" stroke-width="3"/>
<line x1="1079.5" y1="428.7" x2="1079.5" y2="491.1" stroke-width="1"/>
</g>
<polygon class="bd" points="144.7,459.4 182.6,439.7 247.8,543.8 212.4,565.3" />
<polygon class="bd" points="218.5,416.9 253.8,396.7 314.0,502.6 279.9,521.3" />
<polygon class="bd" points="292.2,375.9 328.8,359.7 379.0,467.6 344.9,484.0" />
<polygon class="bd" points="369.7,344.9 407.6,330.5 452.8,443.9 417.4,457.8" />
<polygon class="bd" points="447.7,313.6 488.9,304.8 525.2,420.1 487.4,432.8" />
<polygon class="bd" points="530.3,293.6 572.6,286.0 602.7,405.2 562.4,414.0" />
<polygon class="bd" points="618.5,278.6 661.4,275.3 676.5,397.7 633.6,401.5" />
<polygon class="bd" points="702.8,270.3 747.7,270.3 751.5,395.2 707.3,395.2" />
<polygon class="be" points="241.0,559.9 278.8,538.5 351.5,652.6 313.7,675.3" />
<polygon class="be" points="316.0,516.2 355.1,497.2 422.8,611.3 382.4,635.3" />
<polygon class="be" points="387.2,479.9 430.1,461.0 490.3,581.3 449.9,600.3" />
<polygon class="be" points="472.2,446.9 517.6,434.8 561.5,562.6 518.6,576.5" />
<polygon class="be" points="558.5,424.8 605.2,417.3 630.2,550.2 584.8,558.2" />
<polygon class="be" points="642.3,408.6 688.9,404.8 705.2,540.5 656.3,545.7" />
<polygon class="ba" points="862.3,271.8 912.7,273.6 912.7,399.0 862.3,396.4" />
<polygon class="ba" points="949.8,276.0 999.0,277.3 999.0,401.5 949.8,398.9" />
<polygon class="ba" points="1036.8,277.3 1086.0,279.3 1086.0,402.7 1036.8,400.2" />
<polygon class="ba" points="1123.5,278.5 1174.0,281.1 1174.0,405.2 1123.5,402.2" />
<polygon class="bb" points="931.0,396.8 980.2,401.3 980.2,525.2 931.0,522.7" />
<polygon class="bb" points="1021.0,401.3 1070.2,403.8 1070.2,529.0 1021.0,526.4" />
<polygon class="bb" points="1107.8,402.5 1156.5,405.8 1156.5,530.7 1107.8,528.2" />
<g clip-path="url(#cd)">
<polygon points="241.0,559.9 278.8,538.5 351.5,652.6 313.7,675.3" fill="none" stroke="#b8561c" stroke-width="3" stroke-linejoin="round"/>
<polygon points="316.0,516.2 355.1,497.2 422.8,611.3 382.4,635.3" fill="none" stroke="#b8561c" stroke-width="3" stroke-linejoin="round"/>
<polygon points="387.2,479.9 430.1,461.0 490.3,581.3 449.9,600.3" fill="none" stroke="#b8561c" stroke-width="3" stroke-linejoin="round"/>
<polygon points="472.2,446.9 517.6,434.8 561.5,562.6 518.6,576.5" fill="none" stroke="#b8561c" stroke-width="3" stroke-linejoin="round"/>
<polygon points="558.5,424.8 605.2,417.3 630.2,550.2 584.8,558.2" fill="none" stroke="#b8561c" stroke-width="3" stroke-linejoin="round"/>
<polygon points="642.3,408.6 688.9,404.8 705.2,540.5 656.3,545.7" fill="none" stroke="#b8561c" stroke-width="3" stroke-linejoin="round"/>
</g>
<polygon class="lbi" points="187.5,516.2 221.2,500.0 230.0,520.0 198.8,536.2" />
<text class="lt" font-size="13.5" transform="translate(209.4 518.1) rotate(-25.7)" y="4.2">D42</text>
<polygon class="lb" points="222.5,495.0 253.8,478.8 263.8,500.0 235.0,516.2" />
<text class="lt" font-size="13.5" transform="translate(243.8 497.5) rotate(-27.5)" y="4.2">D41</text>
<polygon class="lbi" points="257.5,476.2 288.8,460.0 298.8,480.0 268.8,496.2" />
<text class="lt" font-size="13.5" transform="translate(278.4 478.1) rotate(-27.5)" y="4.2">D39</text>
<polygon class="lb" points="290.5,452.0 318.0,439.0 327.5,460.0 301.2,474.5" />
<text class="lt" font-size="13.5" transform="translate(309.3 456.4) rotate(-25.3)" y="4.2">D37</text>
<polygon class="lbi" points="325.0,435.0 353.0,422.0 362.0,443.5 335.0,457.5" />
<text class="lt" font-size="13.5" transform="translate(343.8 439.5) rotate(-24.9)" y="4.2">D35</text>
<polygon class="lb" points="360.0,417.0 387.5,405.5 396.5,427.5 370.0,440.0" />
<text class="lt" font-size="13.5" transform="translate(378.5 422.5) rotate(-22.7)" y="4.2">D33</text>
<polygon class="lbi" points="397.5,398.5 425.0,387.0 432.5,409.0 405.5,421.2" />
<text class="lt" font-size="13.5" transform="translate(415.1 403.9) rotate(-22.7)" y="4.2">D31</text>
<polygon class="lb" points="437.0,394.5 465.5,382.8 473.8,405.0 446.2,417.2" />
<text class="lt" font-size="13.5" transform="translate(455.6 399.9) rotate(-22.4)" y="4.2">D29</text>
<polygon class="lbi" points="474.2,382.0 502.0,369.8 510.0,392.0 483.8,403.8" />
<text class="lt" font-size="13.5" transform="translate(492.5 386.9) rotate(-23.8)" y="4.2">D27</text>
<polygon class="lb" points="513.8,370.0 542.5,360.0 548.8,381.2 520.0,392.0" />
<text class="lt" font-size="13.5" transform="translate(531.2 375.8) rotate(-19.2)" y="4.2">D25</text>
<polygon class="lbi" points="553.8,357.0 582.5,351.2 587.0,375.0 557.5,380.0" />
<text class="lt" font-size="13.5" transform="translate(570.2 365.8) rotate(-11.3)" y="4.2">D23</text>
<polygon class="lb" points="592.5,347.5 622.0,342.0 626.2,366.2 597.5,371.2" />
<text class="lt" font-size="13.5" transform="translate(609.6 356.8) rotate(-10.6)" y="4.2">D21</text>
<polygon class="lbi" points="632.0,341.2 661.2,337.0 663.8,361.2 635.0,365.0" />
<text class="lt" font-size="13.5" transform="translate(648.0 351.1) rotate(-8.3)" y="4.2">D19</text>
<polygon class="lb" points="672.5,333.0 702.0,330.0 704.0,355.5 675.0,358.0" />
<text class="lt" font-size="13.5" transform="translate(688.4 344.1) rotate(-5.8)" y="4.2">D17</text>
<polygon class="lbi" points="713.8,328.8 743.8,328.8 743.8,355.0 713.8,355.0" />
<text class="lt" font-size="13.5" transform="translate(728.8 341.9) rotate(0.0)" y="4.2">D15</text>
<polygon class="lbe" points="228.8,617.5 261.2,601.2 276.2,626.2 245.0,642.5" />
<text class="lt" font-size="13.5" transform="translate(252.8 621.9) rotate(-26.6)" y="4.2">F40</text>
<polygon class="lbi" points="278.8,601.2 306.2,586.2 316.2,607.0 288.8,622.5" />
<text class="lt" font-size="13.5" transform="translate(297.5 604.2) rotate(-28.6)" y="4.2">E38</text>
<polygon class="lbe" points="313.0,582.0 340.0,568.8 350.5,589.5 323.8,603.8" />
<text class="lt" font-size="13.5" transform="translate(331.8 586.0) rotate(-26.1)" y="4.2">E36</text>
<polygon class="lbi" points="348.2,559.5 375.5,546.2 385.5,567.0 358.8,580.8" />
<text class="lt" font-size="13.5" transform="translate(367.0 563.4) rotate(-25.9)" y="4.2">E34</text>
<polygon class="lbe" points="385.0,542.5 411.2,530.0 421.2,550.0 395.8,563.8" />
<text class="lt" font-size="13.5" transform="translate(403.3 546.6) rotate(-25.5)" y="4.2">E32</text>
<polygon class="lbi" points="416.2,523.8 443.2,509.5 453.8,529.5 427.5,543.8" />
<text class="lt" font-size="13.5" transform="translate(435.2 526.6) rotate(-27.8)" y="4.2">E30</text>
<polygon class="lbe" points="452.5,496.2 481.2,486.2 488.8,507.5 461.2,518.8" />
<text class="lt" font-size="13.5" transform="translate(470.9 502.2) rotate(-19.2)" y="4.2">E28</text>
<polygon class="lbi" points="501.2,507.5 528.8,497.0 537.5,519.2 510.0,530.0" />
<text class="lt" font-size="13.5" transform="translate(519.4 513.4) rotate(-20.9)" y="4.2">E26</text>
<polygon class="lbe" points="535.8,481.2 565.0,473.8 568.8,496.2 541.2,504.2" />
<text class="lt" font-size="13.5" transform="translate(552.7 488.9) rotate(-14.4)" y="4.2">E24</text>
<polygon class="lbi" points="578.8,468.8 608.8,466.2 610.8,491.2 581.2,493.8" />
<text class="lt" font-size="13.5" transform="translate(594.9 480.0) rotate(-4.8)" y="4.2">E22</text>
<polygon class="lbe" points="617.5,462.5 646.2,460.0 648.2,484.5 619.5,487.0" />
<text class="lt" font-size="13.5" transform="translate(632.9 473.5) rotate(-5.0)" y="4.2">E20</text>
<polygon class="lbi" points="658.8,455.0 687.5,453.0 690.0,478.8 660.5,480.8" />
<text class="lt" font-size="13.5" transform="translate(674.2 466.9) rotate(-4.0)" y="4.2">E18</text>
<polygon class="lbe" points="700.0,446.2 730.0,446.2 730.0,472.0 700.0,472.0" />
<text class="lt" font-size="13.5" transform="translate(715.0 459.1) rotate(0.0)" y="4.2">C16</text>
<polygon class="lbi" points="868.8,332.0 898.2,332.0 898.2,357.5 868.8,357.5" />
<text class="lt" font-size="13.5" transform="translate(883.5 344.8) rotate(0.0)" y="4.2">A13</text>
<polygon class="lb" points="915.0,332.5 945.5,332.5 945.5,358.0 915.0,358.0" />
<text class="lt" font-size="13.5" transform="translate(930.2 345.2) rotate(0.0)" y="4.2">A11</text>
<polygon class="lbi" points="955.5,333.0 985.0,333.0 985.0,358.0 955.5,358.0" />
<text class="lt" font-size="13.5" transform="translate(970.2 345.5) rotate(0.0)" y="4.2">A09</text>
<polygon class="lb" points="1002.5,335.0 1032.0,335.0 1032.0,360.0 1002.5,360.0" />
<text class="lt" font-size="13.5" transform="translate(1017.2 347.5) rotate(0.0)" y="4.2">A07</text>
<polygon class="lbi" points="1043.2,338.8 1072.5,338.8 1072.5,364.2 1043.2,364.2" />
<text class="lt" font-size="13.5" transform="translate(1057.9 351.5) rotate(0.0)" y="4.2">A05</text>
<polygon class="lb" points="1089.5,341.2 1119.5,341.2 1119.5,366.8 1089.5,366.8" />
<text class="lt" font-size="13.5" transform="translate(1104.5 354.0) rotate(0.0)" y="4.2">A03</text>
<polygon class="lb" points="880.0,443.8 927.5,443.8 927.5,467.0 880.0,467.0" />
<text class="lt" font-size="13.5" transform="translate(903.8 455.4) rotate(0.0)" y="4.2">B14</text>
<polygon class="lbi" points="938.8,438.8 968.2,438.8 968.2,463.8 938.8,463.8" />
<text class="lt" font-size="13.5" transform="translate(953.5 451.2) rotate(0.0)" y="4.2">B12</text>
<polygon class="lb" points="986.5,441.2 1017.0,441.2 1017.0,466.2 986.5,466.2" />
<text class="lt" font-size="13.5" transform="translate(1001.8 453.8) rotate(0.0)" y="4.2">B10</text>
<polygon class="lbi" points="1029.2,442.5 1058.2,442.5 1058.2,467.5 1029.2,467.5" />
<text class="lt" font-size="13.5" transform="translate(1043.8 455.0) rotate(0.0)" y="4.2">B8</text>
<polygon class="lb" points="1073.8,443.8 1103.0,443.8 1103.0,468.8 1073.8,468.8" />
<text class="lt" font-size="13.5" transform="translate(1088.4 456.2) rotate(0.0)" y="4.2">B6</text>
<polygon class="lbi" points="1114.2,447.0 1143.2,447.0 1143.2,472.0 1114.2,472.0" />
<text class="lt" font-size="13.5" transform="translate(1128.8 459.5) rotate(0.0)" y="4.2">B4</text>
<polygon class="lb" points="1159.5,448.8 1189.2,448.8 1189.2,474.2 1159.5,474.2" />
<text class="lt" font-size="13.5" transform="translate(1171.9 462.7) rotate(0.0)" y="4.2">B2</text>
<text class="lt b43" font-size="17.5" transform="translate(167.9 545.2) rotate(-29.6)" y="5.6">D43</text>
<polygon class="lbi" points="1133.8,313.8 1163.2,313.8 1163.2,376.2 1133.8,376.2" />
<text class="lt" font-size="12.8" x="1148.5" y="341.8">A</text>
<text class="lt" font-size="12.8" x="1148.5" y="358">01</text>
<use href="#palm" x="66.8" y="188.8" width="104.0" height="104.0"/>
<use href="#palm" x="349.8" y="104.8" width="104.0" height="104.0"/>
<use href="#palm" x="847.8" y="53.8" width="104.0" height="104.0"/>
<use href="#palm" x="1124.8" y="43.8" width="104.0" height="104.0"/>
<use href="#palm" x="54.8" y="776.8" width="104.0" height="104.0"/>
<use href="#palm" x="384.8" y="749.8" width="104.0" height="104.0"/>
<use href="#palm" x="625.8" y="664.8" width="104.0" height="104.0"/>
<use href="#palm" x="1131.8" y="648.8" width="104.0" height="104.0"/>
<text class="ttl" font-size="36.8" transform="translate(675.6 82) scale(.982 1)">EXTERIOR</text>
<text class="ttl" font-size="37" transform="translate(663.6 798) scale(1.002 1)">INTERIOR</text>
<text class="big" font-size="22" x="68.75" y="411">D43</text>
<text class="pr" font-size="20.2" transform="translate(81 434.0) scale(0.925 1)">140.000€</text>
<text class="pr" font-size="20.2" transform="translate(321.5 288.0) scale(0.925 1)">130.000€</text>
<text class="big" font-size="22" x="703" y="208.5">D15</text>
<text class="pr" font-size="20.2" transform="translate(708 233.0) scale(0.925 1)">140.000€</text>
<text class="big" font-size="22" x="866" y="210.5">A13</text>
<text class="pr" font-size="20.2" transform="translate(872.5 235.5) scale(0.925 1)">142.000€</text>
<text class="pr" font-size="20.2" transform="translate(1004 210.0) scale(0.925 1)">130.000€</text>
<text class="big" font-size="22" x="1171.5" y="210.5">A01</text>
<text class="pr" font-size="20.2" transform="translate(1172 237.5) scale(0.925 1)">140.000€</text>
<text class="big" font-size="22" x="276" y="747.5">F40</text>
<text class="pr" font-size="20.2" transform="translate(270 772.0) scale(0.925 1)">140.000€</text>
<text class="pr" font-size="20.2" transform="translate(488 661.0) scale(0.925 1)">124.000€</text>
<text class="big" font-size="18.6" x="732.5" y="580.7">C16</text>
<text class="pr" font-size="20.2" transform="translate(737.5 606.5) scale(0.925 1)">135.000€</text>
<text class="big" font-size="20.4" transform="translate(899 577.2) scale(1.08 1)">B14</text>
<text class="big" font-size="17.8" transform="translate(909.6 595.2) scale(1.16 1)" style="stroke-width:.8">155.000€</text>
<text class="pr" font-size="20.2" transform="translate(1048 610.5) scale(0.925 1)">128.000€</text>
<text class="big" font-size="22" x="1198.5" y="577.2">B02</text>
<text class="pr" font-size="20.2" transform="translate(1195.5 603.5) scale(0.925 1)">140.000€</text>
<g transform="translate(104.4 471.6) rotate(-36) scale(1.05 1)"><use href="#r1" class="rg"/><g class="rt"><text id="r1" font-size="21.4" y="7.7">197 M2</text></g></g>
<g transform="translate(240.3 362.8) rotate(-28.5)"><use href="#r2" class="rg"/><g class="rt"><text id="r2" font-size="23.5" y="8.5">157 M2</text></g></g>
<g transform="translate(399.3 301.8) rotate(-24)"><use href="#r3" class="rg"/><g class="rt"><text id="r3" font-size="18.3" y="6.6">163 M2</text></g></g>
<g transform="translate(569.3 245.3) rotate(-9) scale(1.17 1)"><use href="#r4" class="rg"/><g class="rt"><text id="r4" font-size="19.8" y="7.1">157 M2</text></g></g>
<g transform="translate(716 253) rotate(0)"><use href="#r5" class="rg"/><g class="rt"><text id="r5" font-size="19.2" y="6.9">165M2</text></g></g>
<g transform="translate(877 256.5) rotate(0)"><use href="#r6" class="rg"/><g class="rt"><text id="r6" font-size="19.2" y="6.9">200M2</text></g></g>
<g transform="translate(1028 232.2) rotate(0) scale(1.085 1)"><use href="#r7" class="rg"/><g class="rt"><text id="r7" font-size="21.6" y="7.8">157 M2</text></g></g>
<g transform="translate(1161 264.5) rotate(0)"><use href="#r8" class="rg"/><g class="rt"><text id="r8" font-size="19.2" y="6.9">162M2</text></g></g>
<g transform="translate(903 544) rotate(0)"><use href="#r9" class="rg"/><g class="rt"><text id="r9" font-size="20.2" y="7.3">224 M2</text></g></g>
<g transform="translate(1045 578.5) rotate(3) scale(1.07 1)"><use href="#r10" class="rg"/><g class="rt"><text id="r10" font-size="21.8" y="7.8">156 M2</text></g></g>
<g transform="translate(1198.5 544.6) rotate(0) scale(0.89 1)"><use href="#r11" class="rg"/><g class="rt"><text id="r11" font-size="21.4" y="7.7">162 M2</text></g></g>
<g transform="translate(740.5 555.5) rotate(0)"><use href="#r12" class="rg"/><g class="rt"><text id="r12" font-size="13.6" y="4.9">155 M2</text></g></g>
<g transform="translate(684 563.5) rotate(3)"><use href="#r13" class="rg"/><g class="rt"><text id="r13" font-size="12.4" y="4.5">157 M2</text></g></g>
<g transform="translate(602 603.9) rotate(-18)"><use href="#r14" class="rg"/><g class="rt"><text id="r14" font-size="20.3" y="7.3">155 M2</text></g></g>
<g transform="translate(494 610.8) rotate(-25.5)"><use href="#r15" class="rg"/><g class="rt"><text id="r15" font-size="17.6" y="6.3">165 M2</text></g></g>
<g transform="translate(407.2 663.2) rotate(-28)"><use href="#r16" class="rg"/><g class="rt"><text id="r16" font-size="22.7" y="8.2">156 M2</text></g></g>
<g transform="translate(295.3 698.2) rotate(-38.5)"><use href="#r17" class="rg"/><g class="rt"><text id="r17" font-size="18.2" y="6.6">185 M2</text></g></g>
<path d="M908.6 259.5l2.200 .3l-.6 3.200l-1.800 2.800l-.9 -.4l1.300 -2.700z" fill="#1f3a2c"/>
</svg>
</body></html>
